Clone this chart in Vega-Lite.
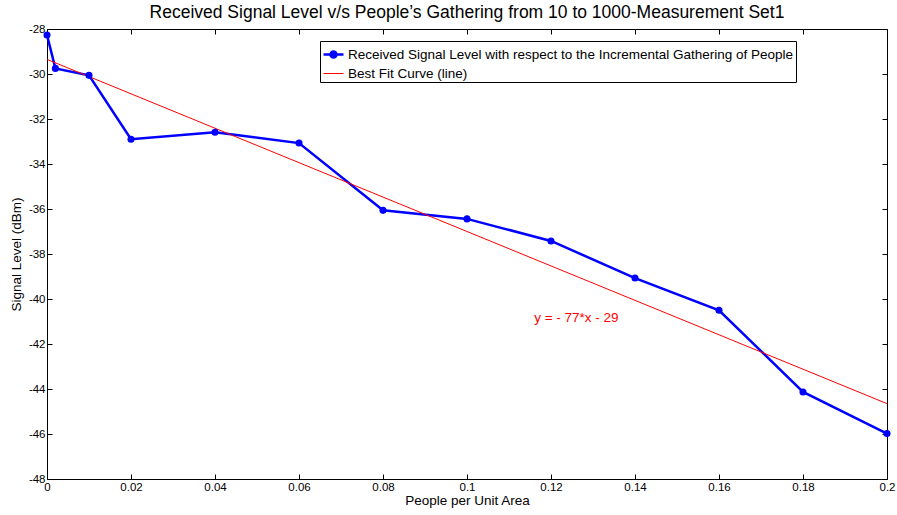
{
  "$schema": "https://vega.github.io/schema/vega-lite/v6.json",
  "autosize": "none",
  "width": 840,
  "height": 450,
  "padding": {"left": 47, "top": 29, "right": 10, "bottom": 36},
  "background": "white",
  "config": {
    "font": "Liberation Sans",
    "view": {"stroke": "black", "strokeWidth": 1},
    "axis": {"grid": false, "domainColor": "black", "tickColor": "black", "labelColor": "black", "titleColor": "black", "labelFont": "Liberation Sans", "titleFont": "Liberation Sans", "labelFontSize": 11.5, "titleFontSize": 13.5, "titleFontWeight": "normal", "tickSize": -5, "labelPadding": 7}
  },
  "title": {"text": "Received Signal Level v/s People\u2019s Gathering from 10 to 1000-Measurement Set1", "fontSize": 17.5, "fontWeight": "normal", "font": "Liberation Sans", "color": "black", "offset": 2},
  "datasets": {
    "lines": [
      {"series": "Received Signal Level with respect to the Incremental Gathering of People", "x": 0, "y": -28.27},
      {"series": "Received Signal Level with respect to the Incremental Gathering of People", "x": 0.002, "y": -29.75},
      {"series": "Received Signal Level with respect to the Incremental Gathering of People", "x": 0.01, "y": -30.06},
      {"series": "Received Signal Level with respect to the Incremental Gathering of People", "x": 0.02, "y": -32.9},
      {"series": "Received Signal Level with respect to the Incremental Gathering of People", "x": 0.04, "y": -32.59},
      {"series": "Received Signal Level with respect to the Incremental Gathering of People", "x": 0.06, "y": -33.07},
      {"series": "Received Signal Level with respect to the Incremental Gathering of People", "x": 0.08, "y": -36.06},
      {"series": "Received Signal Level with respect to the Incremental Gathering of People", "x": 0.1, "y": -36.44},
      {"series": "Received Signal Level with respect to the Incremental Gathering of People", "x": 0.12, "y": -37.42},
      {"series": "Received Signal Level with respect to the Incremental Gathering of People", "x": 0.14, "y": -39.07},
      {"series": "Received Signal Level with respect to the Incremental Gathering of People", "x": 0.16, "y": -40.5},
      {"series": "Received Signal Level with respect to the Incremental Gathering of People", "x": 0.18, "y": -44.13},
      {"series": "Received Signal Level with respect to the Incremental Gathering of People", "x": 0.2, "y": -45.98},
      {"series": "Best Fit Curve (line)", "x": 0, "y": -29.35},
      {"series": "Best Fit Curve (line)", "x": 0.2, "y": -44.65}
    ],
    "note": [{"x": 0.116, "y": -40.84, "label": "y = - 77*x - 29"}]
  },
  "layer": [
    {
      "data": {"name": "lines"},
      "mark": {"type": "line", "clip": false},
      "encoding": {
        "x": {"field": "x", "type": "quantitative", "scale": {"domain": [0, 0.2], "nice": false, "zero": false},
              "axis": {"orient": "bottom", "title": "People per Unit Area", "values": [0, 0.02, 0.04, 0.06, 0.08, 0.1, 0.12, 0.14, 0.16, 0.18, 0.2], "labelExpr": "'' + datum.value", "titlePadding": 1, "labelFlush": false, "domain": false}},
        "y": {"field": "y", "type": "quantitative", "scale": {"domain": [-48, -28], "nice": false, "zero": false},
              "axis": {"orient": "left", "title": "Signal Level (dBm)", "values": [-48, -46, -44, -42, -40, -38, -36, -34, -32, -30, -28], "labelExpr": "'' + datum.value", "titlePadding": 5, "labelFlush": false, "domain": false}},
        "color": {"field": "series", "type": "nominal",
          "scale": {"domain": ["Received Signal Level with respect to the Incremental Gathering of People", "Best Fit Curve (line)"], "range": ["#0000ff", "#ff0000"]},
          "legend": {"title": null, "orient": "none", "legendX": 273, "legendY": 12, "strokeColor": "black", "fillColor": "white", "padding": 2, "labelFontSize": 13.5, "labelFont": "Liberation Sans", "labelColor": "black", "symbolSize": 400, "symbolType": "stroke", "rowPadding": 0, "labelOffset": 3, "labelLimit": 600,
            "encode": {"symbols": {"update": {
              "shape": {"signal": "datum.value === 'Best Fit Curve (line)' ? 'M-1,0H1' : 'M-1,0H1M0.3,0A0.3,0.3,0,1,1,-0.3,0A0.3,0.3,0,1,1,0.3,0Z'"},
              "fill": {"signal": "datum.value === 'Best Fit Curve (line)' ? 'transparent' : '#0000ff'"},
              "stroke": {"signal": "datum.value === 'Best Fit Curve (line)' ? '#ff0000' : '#0000ff'"},
              "strokeWidth": {"signal": "datum.value === 'Best Fit Curve (line)' ? 1 : 2.5"}
            }}}}},
        "strokeWidth": {"field": "series", "type": "nominal", "scale": {"domain": ["Received Signal Level with respect to the Incremental Gathering of People", "Best Fit Curve (line)"], "range": [2.5, 1]}, "legend": null}
      }
    },
    {
      "data": {"name": "lines"},
      "transform": [{"filter": "datum.series !== 'Best Fit Curve (line)'"}],
      "mark": {"type": "point", "filled": true, "color": "#0000ff", "size": 50, "opacity": 1, "clip": false},
      "encoding": {
        "x": {"field": "x", "type": "quantitative", "axis": {"orient": "top", "title": null, "labels": false, "domain": false, "values": [0, 0.02, 0.04, 0.06, 0.08, 0.1, 0.12, 0.14, 0.16, 0.18, 0.2]}},
        "y": {"field": "y", "type": "quantitative", "axis": {"orient": "right", "title": null, "labels": false, "domain": false, "values": [-48, -46, -44, -42, -40, -38, -36, -34, -32, -30, -28]}}
      }
    },
    {
      "data": {"name": "note"},
      "mark": {"type": "text", "align": "left", "baseline": "middle", "color": "#ff0000", "fontSize": 13.5, "font": "Liberation Sans"},
      "encoding": {
        "x": {"field": "x", "type": "quantitative", "axis": null},
        "y": {"field": "y", "type": "quantitative", "axis": null},
        "text": {"field": "label"}
      }
    }
  ],
  "resolve": {"axis": {"x": "independent", "y": "independent"}}
}
